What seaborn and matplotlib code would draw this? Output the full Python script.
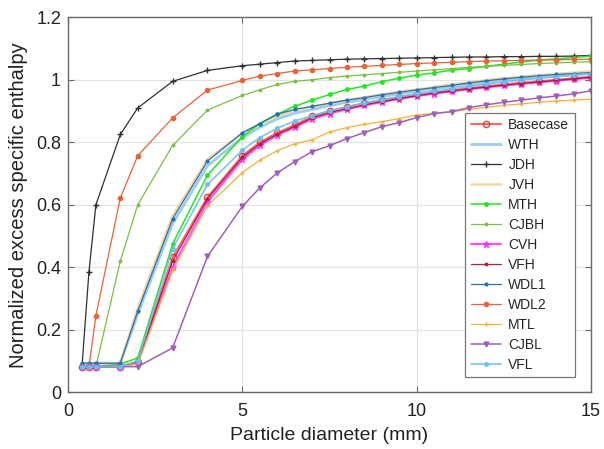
import matplotlib
matplotlib.use("Agg")
import matplotlib.pyplot as plt
import seaborn as sns
import pandas as pd

diameters = [0.4, 0.6, 0.8, 1.5, 2, 3, 4, 5, 5.5, 6, 6.5, 7, 7.5, 8, 8.5, 9, 9.5,
             10, 10.5, 11, 11.5, 12, 12.5, 13, 13.5, 14, 14.5, 15]

series_names = ["Basecase", "WTH", "JDH", "JVH", "MTH", "CJBH", "CVH", "VFH",
                "WDL1", "WDL2", "MTL", "CJBL", "VFL"]

basecase = [0.082, 0.082, 0.082, 0.082, 0.098, 0.432, 0.624, 0.757, 0.800, 0.830, 0.855, 0.883, 0.900, 0.913,
            0.925, 0.935, 0.944, 0.953, 0.960, 0.966, 0.973, 0.979, 0.985, 0.990, 0.995, 1.000, 1.005, 1.010]
wth = [0.093, 0.093, 0.093, 0.093, 0.250, 0.540, 0.725, 0.815, 0.848, 0.875, 0.893, 0.905, 0.917, 0.928,
       0.937, 0.946, 0.955, 0.963, 0.971, 0.978, 0.985, 0.992, 0.998, 1.003, 1.008, 1.012, 1.016, 1.020]
jdh = [0.082, 0.385, 0.600, 0.825, 0.910, 0.995, 1.030, 1.045, 1.050, 1.055, 1.060, 1.062, 1.064, 1.066,
       1.067, 1.068, 1.069, 1.070, 1.071, 1.072, 1.073, 1.073, 1.074, 1.074, 1.075, 1.075, 1.076, 1.078]
jvh = [0.093, 0.093, 0.093, 0.093, 0.270, 0.565, 0.745, 0.830, 0.858, 0.885, 0.902, 0.914, 0.925, 0.935,
       0.944, 0.953, 0.961, 0.969, 0.977, 0.985, 0.992, 0.999, 1.005, 1.010, 1.015, 1.019, 1.023, 1.027]
mth = [0.082, 0.082, 0.082, 0.090, 0.110, 0.475, 0.695, 0.818, 0.860, 0.890, 0.915, 0.935, 0.953, 0.969,
       0.980, 0.994, 1.005, 1.015, 1.022, 1.031, 1.036, 1.043, 1.050, 1.057, 1.063, 1.067, 1.071, 1.076]
cjbh = [0.082, 0.082, 0.082, 0.420, 0.600, 0.790, 0.903, 0.950, 0.968, 0.985, 0.995, 1.000, 1.007, 1.012,
        1.016, 1.020, 1.024, 1.028, 1.032, 1.036, 1.040, 1.043, 1.046, 1.049, 1.052, 1.054, 1.056, 1.058]
cvh = [0.082, 0.082, 0.082, 0.082, 0.095, 0.400, 0.610, 0.745, 0.790, 0.823, 0.848, 0.875, 0.892, 0.906,
       0.918, 0.929, 0.939, 0.948, 0.956, 0.963, 0.970, 0.976, 0.982, 0.987, 0.992, 0.997, 1.002, 1.007]
vfh = [0.082, 0.082, 0.082, 0.082, 0.098, 0.420, 0.620, 0.752, 0.795, 0.826, 0.851, 0.878, 0.895, 0.908,
       0.920, 0.930, 0.940, 0.949, 0.957, 0.964, 0.971, 0.977, 0.983, 0.988, 0.993, 0.998, 1.003, 1.008]
wdl1 = [0.093, 0.093, 0.093, 0.093, 0.260, 0.555, 0.740, 0.830, 0.860, 0.890, 0.905, 0.915, 0.925, 0.935,
        0.943, 0.952, 0.960, 0.968, 0.975, 0.982, 0.990, 0.997, 1.003, 1.008, 1.013, 1.017, 1.020, 1.023]
wdl2 = [0.082, 0.082, 0.245, 0.622, 0.757, 0.878, 0.967, 0.998, 1.012, 1.020, 1.028, 1.032, 1.036, 1.040,
        1.043, 1.046, 1.049, 1.052, 1.054, 1.056, 1.058, 1.060, 1.061, 1.062, 1.063, 1.064, 1.065, 1.066]
mtl = [0.082, 0.082, 0.082, 0.082, 0.090, 0.390, 0.597, 0.703, 0.743, 0.773, 0.795, 0.808, 0.833, 0.847,
       0.858, 0.866, 0.876, 0.887, 0.893, 0.898, 0.905, 0.912, 0.918, 0.923, 0.928, 0.932, 0.935, 0.938]
cjbl = [0.082, 0.082, 0.082, 0.082, 0.082, 0.142, 0.435, 0.595, 0.654, 0.702, 0.738, 0.770, 0.789, 0.812,
        0.831, 0.850, 0.863, 0.879, 0.892, 0.898, 0.911, 0.920, 0.928, 0.935, 0.942, 0.948, 0.955, 0.965]
vfl = [0.082, 0.082, 0.082, 0.082, 0.100, 0.460, 0.665, 0.775, 0.815, 0.845, 0.868, 0.885, 0.900, 0.913,
       0.925, 0.936, 0.946, 0.955, 0.963, 0.971, 0.979, 0.986, 0.993, 0.999, 1.005, 1.010, 1.015, 1.020]

values = [basecase, wth, jdh, jvh, mth, cjbh, cvh, vfh, wdl1, wdl2, mtl, cjbl, vfl]

styles = {
    "Basecase": dict(color="#f05050", marker="o", ms=4.5, mfc="none", mec="#f02020", lw=1.5, alpha=0.85),
    "WTH": dict(color="#8cc4ea", marker=None, ms=0, lw=2.0, alpha=0.85),
    "JDH": dict(color="#303030", marker="+", ms=4, lw=0.9, alpha=1.0),
    "JVH": dict(color="#f5cf90", marker=None, ms=0, lw=1.8, alpha=0.85),
    "MTH": dict(color="#22e622", marker=".", ms=5, lw=1.1, alpha=1.0),
    "CJBH": dict(color="#7cbf46", marker=".", ms=3.5, lw=0.9, alpha=1.0),
    "CVH": dict(color="#ff30ff", marker="*", ms=5, lw=1.6, alpha=0.85),
    "VFH": dict(color="#b01e3c", marker=".", ms=3.5, lw=0.9, alpha=1.0),
    "WDL1": dict(color="#2870b4", marker=".", ms=4, lw=0.9, alpha=1.0),
    "WDL2": dict(color="#e8623a", marker=".", ms=6, lw=0.9, alpha=1.0),
    "MTL": dict(color="#f2b23c", marker="+", ms=3.5, lw=0.9, alpha=1.0),
    "CJBL": dict(color="#a060b8", marker="v", ms=3.5, lw=1.1, alpha=1.0),
    "VFL": dict(color="#6cc0ec", marker=".", ms=5.5, lw=1.3, alpha=0.85),
}

frames = []
for name, vals in zip(series_names, values):
    frames.append(pd.DataFrame({"d": diameters, "v": vals, "case": name}))
df = pd.concat(frames, ignore_index=True)

sns.set_theme(style="white")
plt.rcParams["font.family"] = ["Liberation Sans", "DejaVu Sans"]

fig = plt.figure(figsize=(6.04, 4.49), dpi=100)
ax = fig.add_axes([0.1126, 0.1263, 0.866, 0.8352])

for name in series_names:
    st = styles[name]
    sub = df[df["case"] == name]
    kw = dict(color=st["color"], lw=st["lw"], alpha=st["alpha"])
    if st["marker"] is not None:
        kw.update(marker=st["marker"], markersize=st["ms"],
                  markerfacecolor=st.get("mfc", st["color"]),
                  markeredgecolor=st.get("mec", st["color"]),
                  markeredgewidth=1.0)
    sns.lineplot(data=sub, x="d", y="v", ax=ax, label=name, estimator=None,
                 sort=False, **kw)

ax.set_xlim(0, 15)
ax.set_ylim(0, 1.2)
ax.set_xticks([0, 5, 10, 15])
ax.set_yticks([0, 0.2, 0.4, 0.6, 0.8, 1.0, 1.2])
ax.set_yticklabels(["0", "0.2", "0.4", "0.6", "0.8", "1", "1.2"])
ax.grid(True, color="#e3e3e3", lw=0.9)
ax.set_axisbelow(True)
for sp in ax.spines.values():
    sp.set_color("#6a6a6a")
    sp.set_linewidth(1.0)
ax.tick_params(direction="in", length=4, width=0.8, color="#6a6a6a",
               labelsize=13, top=True, right=True, bottom=True, left=True,
               labelcolor="#222222")
ax.tick_params(axis="x", pad=8)
ax.tick_params(axis="y", pad=5)
ax.set_xlabel("Particle diameter (mm)", fontsize=14, color="#222222", labelpad=5)
ax.set_ylabel("Normalized excess specific enthalpy", fontsize=14.5, color="#222222", labelpad=6)

leg = ax.legend(loc="lower right", bbox_to_anchor=(0.969, 0.04), fontsize=10,
                frameon=True, fancybox=False, framealpha=1, edgecolor="#777777",
                handlelength=2.2, labelspacing=0.43, borderpad=0.4, handletextpad=0.5,
                borderaxespad=0)
leg.get_frame().set_linewidth(0.9)

fig.savefig("out.png", dpi=100)
